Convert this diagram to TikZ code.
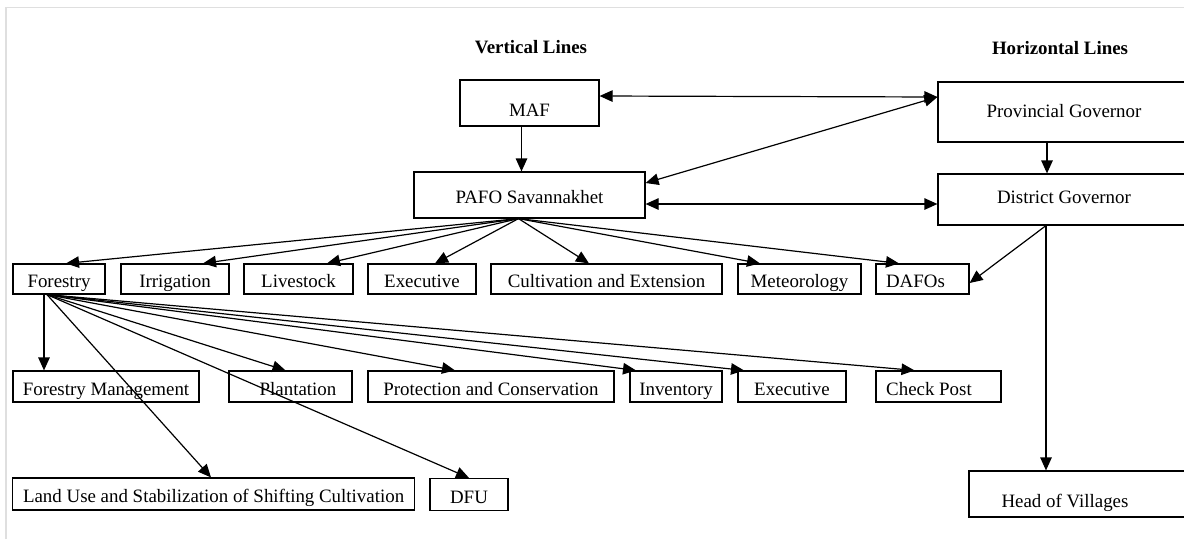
\documentclass[tikz,border=0pt]{standalone}
\usepackage{fontspec}
\setmainfont{Liberation Serif}
\usetikzlibrary{arrows.meta,calc}
\begin{document}
\begin{tikzpicture}[x=1pt,y=-1pt,
  box/.style={draw=black, line width=1.2pt, inner sep=0pt, text height=21.5pt, text depth=4pt, font=\fontsize{18.9pt}{22pt}\selectfont},
  hdr/.style={font=\fontsize{18.9pt}{22pt}\selectfont\bfseries, inner sep=0pt},
  arr/.style={line width=1.2pt, -{Triangle[length=13pt,width=11.5pt]}},
  darr/.style={line width=1.2pt, {Triangle[length=13pt,width=11.5pt]}-{Triangle[length=13pt,width=11.5pt]}},
  r2/.style={box, minimum height=30pt},
  r3/.style={box, minimum height=31pt},
  r4/.style={box, minimum height=32pt}]
\useasboundingbox (0,0) rectangle (1184,539);
\clip (0,0) rectangle (1184,539);
\fill[white] (0,0) rectangle (1184,539);
\draw[gray!25, line width=1.5pt] (6,539) -- (6,7.5) -- (1184,7.5);

% headers
\node[hdr] (vl) at (531,47) {Vertical Lines};
\node[hdr] (hl) at (1060,48) {Horizontal Lines};

% top boxes
\node[box, minimum width=139pt, minimum height=46pt, text height=30.5pt] (maf) at (529.5,103) {MAF};
\node[box, minimum width=252pt, minimum height=60pt, text height=14.5pt] (prov) at (1064,112) {Provincial Governor};
\node[box, minimum width=231pt, minimum height=46pt, text height=20.5pt] (pafo) at (529.5,195) {PAFO Savannakhet};
\node[box, minimum width=252pt, minimum height=51pt, text height=12.5pt] (dist) at (1064,199.5) {District Governor};

% row 2
\node[r2, minimum width=92pt] (forestry) at (59,279) {Forestry};
\node[r2, minimum width=108pt] (irrig) at (175,279) {Irrigation};
\node[r2, minimum width=109pt] (live) at (298.5,279) {Livestock};
\node[r2, minimum width=108pt] (execA) at (422,279) {Executive};
\node[r2, minimum width=231pt] (cult) at (606.5,279) {Cultivation and Extension};
\node[r2, minimum width=123pt] (meteo) at (799.5,279) {Meteorology};
\node[r2, minimum width=93pt] (dafos) at (922.5,279) {DAFOs\hspace*{14pt}};

% row 3
\node[r3, minimum width=186pt] (fm) at (106,386.5) {Forestry Management};
\node[r3, minimum width=123pt] (plant) at (290.5,386.5) {\hspace*{15pt}Plantation};
\node[r3, minimum width=246pt] (prot) at (491,386.5) {Protection and Conservation};
\node[r3, minimum width=92pt] (inv) at (676,386.5) {Inventory};
\node[r3, minimum width=108pt] (execB) at (792,386.5) {Executive};
\node[r3, minimum width=125pt] (check) at (938.5,386.5) {Check Post\hspace*{19pt}};

% row 4
\node[r4, minimum width=402pt] (land) at (213.6,494) {Land Use and Stabilization of Shifting Cultivation};
\node[r4, minimum width=78pt] (dfu) at (469,494.5) {DFU};
\node[box, minimum width=226pt, minimum height=46pt, text height=30.5pt] (hov) at (1082,494) {Head of Villages\hspace*{34pt}};

% vertical / horizontal links
\draw[arr] ([xshift=-8pt]maf.south) -- ([xshift=-8pt]pafo.north);
\draw[darr] ([yshift=7pt]maf.east) -- ([yshift=15pt]prov.west);
\draw[darr] ([yshift=15pt]prov.west) -- ([yshift=12pt]pafo.east);
\draw[darr] ([yshift=-9pt]pafo.east) -- ([yshift=-9pt]pafo.east -| dist.west);
\draw[arr] ([xshift=-17pt]prov.south) -- ([xshift=-17pt]dist.north);
\coordinate (dsrc) at ([xshift=-18pt]dist.south);
\draw[arr] (dsrc) -- (dsrc |- hov.north);
\draw[arr] (dsrc) -- ([yshift=-4pt]dafos.east);

% PAFO fan
\coordinate (psrc) at ([xshift=-11pt]pafo.south);
\draw[arr] (psrc) -- ([xshift=7pt]forestry.north);
\draw[arr] (psrc) -- ([xshift=28pt]irrig.north);
\draw[arr] (psrc) -- ([xshift=28.5pt]live.north);
\draw[arr] (psrc) -- ([xshift=13pt]execA.north);
\draw[arr] (psrc) -- ([xshift=-17.5pt]cult.north);
\draw[arr] (psrc) -- ([xshift=-39.5pt]meteo.north);
\draw[arr] (psrc) -- ([xshift=-23.5pt]dafos.north);

% Forestry fan
\coordinate (fsrc) at ([xshift=-12pt]forestry.south);
\draw[arr] ([xshift=-15pt]forestry.south) -- ([xshift=-15pt]forestry.south |- fm.north);
\draw[arr] (fsrc) -- ([xshift=-5pt]plant.north);
\draw[arr] (fsrc) -- ([xshift=-36pt]prot.north);
\draw[arr] (fsrc) -- ([xshift=-40pt]inv.north);
\draw[arr] (fsrc) -- ([xshift=-48pt]execB.north);
\draw[arr] (fsrc) -- ([xshift=-24pt]check.north);
\draw[arr] (fsrc) -- ([xshift=-2.6pt]land.north);
\draw[arr] (fsrc) -- (dfu.north);
\end{tikzpicture}
\end{document}
